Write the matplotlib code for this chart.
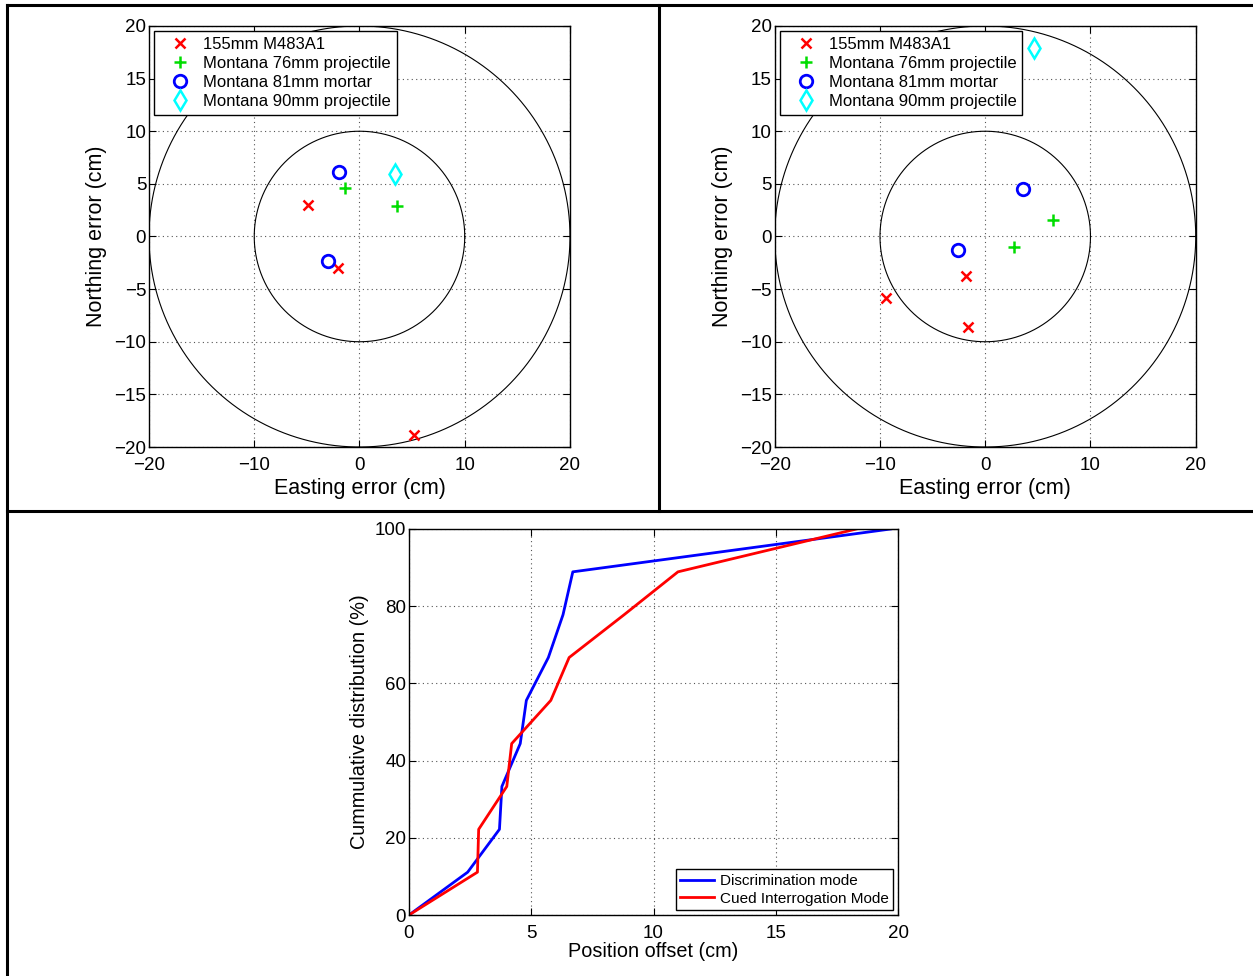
import numpy as np
import matplotlib.pyplot as plt
from matplotlib.lines import Line2D

plt.rcParams['font.family'] = ['Liberation Sans', 'DejaVu Sans']
plt.rcParams['axes.unicode_minus'] = True

# Position errors (cm) for each ordnance type, discrimination mode
disc_labels = ["155mm M483A1", "Montana 76mm projectile",
               "Montana 81mm mortar", "Montana 90mm projectile"]
disc_east = [[-4.9, -2.0, 5.2], [-1.4, 3.6], [-1.9, -3.0], [3.4]]
disc_north = [[3.0, -3.0, -18.9], [4.6, 2.9], [6.1, -2.3], [5.9]]

# Position errors (cm), cued interrogation mode
cued_east = [[-1.8, -9.4, -1.6], [6.4, 2.7], [3.6, -2.6], [4.6]]
cued_north = [[-3.8, -5.8, -8.6], [1.6, -1.0], [4.5, -1.3], [17.9]]

# Cumulative distribution of position offsets
cdf_pct = [0, 11.1, 22.2, 33.3, 44.4, 55.6, 66.7, 77.8, 88.9, 100]
disc_offset = [0, 2.4, 3.7, 3.8, 4.55, 4.8, 5.7, 6.3, 6.7, 19.7]
cued_offset = [0, 2.8, 2.85, 4.0, 4.2, 5.8, 6.55, 8.8, 11.0, 18.3]

styles = [dict(marker='x', color='red', ms=6.5, mew=1.8),
          dict(marker='+', color='#00dd00', ms=9, mew=1.8),
          dict(marker='o', color='blue', ms=9, mew=2, mfc='none'),
          dict(marker='d', color='cyan', ms=10, mew=1.8, mfc='none')]

fs = 13.5


def matlab_axes(ax):
    ax.tick_params(direction='in', top=True, right=True, labelsize=fs,
                   length=5, width=0.8)
    ax.tick_params(axis='x', pad=7)
    ax.tick_params(axis='y', pad=2)
    ax.grid(True, linestyle=(0, (1, 3)), color='#555555', linewidth=0.8)
    for s in ax.spines.values():
        s.set_linewidth(1.0)


fig = plt.figure(figsize=(12.53, 9.76), dpi=100)

th = np.linspace(0, 2 * np.pi, 400)
for left, east, north in [(0.1189, disc_east, disc_north),
                          (0.6183, cued_east, cued_north)]:
    ax = fig.add_axes([left, 0.5420, 0.3360, 0.4314])
    for r in (10, 20):
        ax.plot(r * np.cos(th), r * np.sin(th), color='black', lw=0.8)
    for lab, xs, ys, st in zip(disc_labels, east, north, styles):
        ax.plot(xs, ys, linestyle='none', label=lab, **st)
    ax.set_xlim(-20, 20)
    ax.set_ylim(-20, 20)
    ax.set_xticks(np.arange(-20, 21, 10))
    ax.set_yticks(np.arange(-20, 21, 5))
    matlab_axes(ax)
    ax.set_xlabel('Easting error (cm)', fontsize=15.5, labelpad=3)
    ax.set_ylabel('Northing error (cm)', fontsize=15.5, labelpad=5)
    leg = ax.legend(loc='upper left', fontsize=12, handlelength=2.4,
                    handletextpad=0.2, borderaxespad=0.3, borderpad=0.35,
                    labelspacing=0.25, fancybox=False, edgecolor='black',
                    framealpha=1)
    leg.get_frame().set_linewidth(1.0)

ax = fig.add_axes([0.3264, 0.0625, 0.3903, 0.3955])
ax.plot(disc_offset, cdf_pct, color='blue', lw=2, label='Discrimination mode')
ax.plot(cued_offset, cdf_pct, color='red', lw=2, label='Cued Interrogation Mode')
ax.set_xlim(0, 20)
ax.set_ylim(0, 100)
ax.set_xticks(np.arange(0, 21, 5))
ax.set_yticks(np.arange(0, 101, 20))
matlab_axes(ax)
ax.set_xlabel('Position offset (cm)', fontsize=14.3, labelpad=0)
ax.set_ylabel('Cummulative distribution (%)', fontsize=14.3, labelpad=4)
leg = ax.legend(loc='lower right', fontsize=11, handlelength=2.2,
                handletextpad=0.4, borderaxespad=0.3, borderpad=0.3,
                labelspacing=0.25, fancybox=False, edgecolor='black',
                framealpha=1)
leg.get_frame().set_linewidth(1.0)

# panel frame lines
W, H = 1253.0, 976.0
for (x0, y0, x1, y1) in [(7, 5, 1253, 5), (7, 5, 7, 976),
                         (659, 5, 659, 511), (7, 511, 1253, 511)]:
    fig.add_artist(Line2D([x0 / W, x1 / W], [1 - y0 / H, 1 - y1 / H],
                          color='black', lw=2.2))

fig.savefig('out.png', dpi=100)
